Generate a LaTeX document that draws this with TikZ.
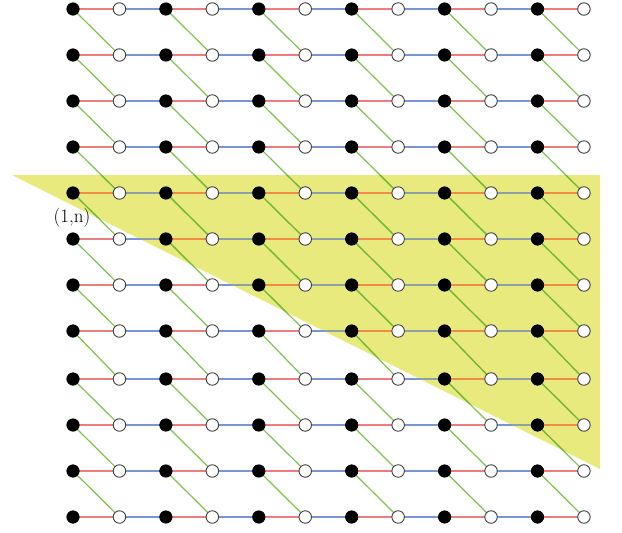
\documentclass[tikz,border=0pt]{standalone}
\definecolor{redline}{RGB}{240,125,125}
\definecolor{blueline}{RGB}{120,150,215}
\definecolor{greenline}{RGB}{125,195,75}
\definecolor{redin}{RGB}{240,140,70}
\definecolor{bluein}{RGB}{140,160,165}
\definecolor{greenin}{RGB}{115,185,55}
\definecolor{yellowfill}{RGB}{232,234,126}
\begin{document}
\begin{tikzpicture}[x=1pt,y=-1pt,
  blacknode/.style={circle,fill=black,draw=black,line width=0.6pt,inner sep=0pt,minimum size=12.5pt},
  whitenode/.style={circle,fill=white,draw=black!75,line width=0.9pt,inner sep=0pt,minimum size=12.5pt},
  rededge/.style={draw=redline,line width=2pt},
  blueedge/.style={draw=blueline,line width=2pt},
  greenedge/.style={draw=greenline,line width=1.2pt},
  lbl/.style={inner sep=0pt,font=\fontsize{19}{22}\selectfont}]
\useasboundingbox (0,0) rectangle (622,533);
% shaded triangle
\coordinate (t1) at (12,175);
\coordinate (t2) at (600,175);
\coordinate (t3) at (600,469);
\fill[yellowfill] (t1) -- (t2) -- (t3) -- cycle;
% node positions (coordinates first, nodes drawn last)
\foreach \r/\yy in {0/9,1/55,2/101,3/147,4/193,5/239,6/285,7/331,8/379,9/425,10/471,11/517}{
  \foreach \c in {0,...,11}{
    \coordinate (p-\r-\c) at ({73+46.45*\c},\yy);
  }
}
% edges outside and inside the shaded part
\foreach \rc/\bc/\gc/\cl in {redline/blueline/greenline/0, redin/bluein/greenin/1}{
  \begin{scope}
    \ifnum\cl=1 \clip (t1) -- (t2) -- (t3) -- cycle; \fi
    \foreach \r in {0,...,11}{
      \foreach \c [evaluate=\c as \d using int(\c+1)] in {0,2,...,10}{
        \draw[rededge,draw=\rc] (p-\r-\c) -- (p-\r-\d);
      }
      \foreach \c [evaluate=\c as \d using int(\c+1)] in {1,3,...,9}{
        \draw[blueedge,draw=\bc] (p-\r-\c) -- (p-\r-\d);
      }
    }
    \foreach \r [evaluate=\r as \s using int(\r+1)] in {0,...,10}{
      \foreach \c [evaluate=\c as \d using int(\c+1)] in {0,2,...,10}{
        \draw[greenedge,draw=\gc] (p-\r-\c) -- (p-\s-\d);
      }
    }
  \end{scope}
}
% nodes
\foreach \r in {0,...,11}{
  \foreach \c in {0,2,...,10}{
    \node[blacknode] (n-\r-\c) at (p-\r-\c) {};
  }
  \foreach \c in {1,3,...,11}{
    \node[whitenode] (n-\r-\c) at (p-\r-\c) {};
  }
}
\node[lbl] (label) at (72,218) {(1,n)};
\end{tikzpicture}
\end{document}
